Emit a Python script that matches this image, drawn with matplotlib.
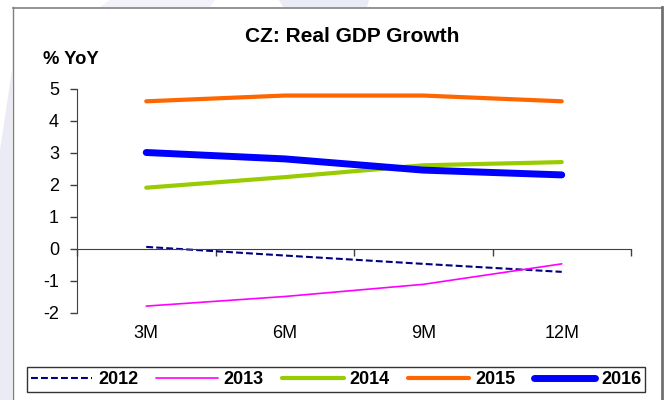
import numpy as np
import matplotlib
matplotlib.use("Agg")
import matplotlib.pyplot as plt
from matplotlib.lines import Line2D
from matplotlib.patches import Polygon

plt.rcParams["font.family"] = ["Liberation Sans", "DejaVu Sans"]
plt.rcParams["axes.unicode_minus"] = False

# Real GDP growth, % YoY, by horizon
horizons = ["3M", "6M", "9M", "12M"]
years = ["2012", "2013", "2014", "2015", "2016"]
gdp_2012 = [0.05, -0.22, -0.48, -0.73]
gdp_2013 = [-1.8, -1.5, -1.12, -0.48]
gdp_2014 = [1.9, 2.23, 2.6, 2.7]
gdp_2015 = [4.6, 4.78, 4.78, 4.6]
gdp_2016 = [3.0, 2.8, 2.45, 2.3]

series = [gdp_2012, gdp_2013, gdp_2014, gdp_2015, gdp_2016]
styles = [
    dict(color="#000080", lw=1.5, ls=(0, (3.3, 1.5))),
    dict(color="#FF00FF", lw=1.2, ls="-"),
    dict(color="#99CC00", lw=3.0, ls="-"),
    dict(color="#FF6600", lw=3.0, ls="-"),
    dict(color="#0000FF", lw=5.0, ls="-"),
]

W, H = 669, 400
fig = plt.figure(figsize=(W / 100, H / 100), dpi=100)

# faint background shapes behind the chart frame
shade = "#ebebf5"
fig.patches.append(Polygon([(0, 1 - 150 / H), (12 / W, 1 - 70 / H), (12 / W, 0), (0, 0)],
                           closed=True, transform=fig.transFigure, fc=shade, ec="none", zorder=0))
fig.patches.append(Polygon([(279 / W, 1), (369 / W, 1), (367 / W, 1 - 7 / H), (283 / W, 1 - 7 / H)],
                           closed=True, transform=fig.transFigure, fc=shade, ec="none", zorder=0))
fig.patches.append(Polygon([(110 / W, 1), (215 / W, 1), (210 / W, 1 - 7 / H), (100 / W, 1 - 7 / H)],
                           closed=True, transform=fig.transFigure, fc="#f2f2f8", ec="none", zorder=0))

# chart frame (open at the bottom)
frame = "#808080"
fig.add_artist(Line2D([12.5 / W, 12.5 / W], [0, 1 - 7 / H], color=frame, lw=1.0))
fig.add_artist(Line2D([12.5 / W, 662 / W], [1 - 7.5 / H, 1 - 7.5 / H], color=frame, lw=1.2))
fig.add_artist(Line2D([662 / W, 662 / W], [0, 1 - 7 / H], color="#707070", lw=2.0))

ax = fig.add_axes([77 / W, 87.5 / H, 554 / W, 224 / H])
x = np.arange(len(horizons)) + 0.5
for yr, vals, st in zip(years, series, styles):
    ax.plot(x, vals, label=yr, solid_capstyle="round", dash_capstyle="butt", **st)

ax.set_xlim(0, 4)
ax.set_ylim(-2, 5)
ax.set_yticks(range(-2, 6))
ax.tick_params(axis="y", direction="out", length=5, width=1, color="#404040",
               labelsize=13, pad=8)

# x axis sits on zero, labels stay below the plot
ax.spines["bottom"].set_position(("data", 0))
ax.spines["bottom"].set_color("#404040")
ax.spines["left"].set_color("#404040")
ax.spines["top"].set_visible(False)
ax.spines["right"].set_visible(False)
ax.set_xticks(x)
ax.set_xticklabels(horizons)
ax.set_xticks(np.arange(0, 5), minor=True)
ax.tick_params(axis="x", which="major", length=0, labelsize=13, pad=55)
ax.tick_params(axis="x", which="minor", direction="out", length=5, width=1, color="#404040")

fig.text(352 / W, 1 - 37 / H, "CZ: Real GDP Growth", ha="center", va="center",
         fontsize=15, fontweight="bold")
fig.text(43 / W, 1 - 60 / H, "% YoY", ha="left", va="center",
         fontsize=13.2, fontweight="bold")

leg = fig.legend(loc="center", bbox_to_anchor=(27 / W, 8 / H, 618 / W, 25 / H),
                 ncol=5, mode="expand", frameon=True, fancybox=False,
                 handlelength=3.4, handletextpad=0.33, columnspacing=0.8,
                 borderaxespad=0, borderpad=0.2,
                 prop={"weight": "bold", "size": 13})
leg.get_frame().set_edgecolor("black")
leg.get_frame().set_linewidth(1.0)

fig.savefig("out.png", dpi=100)
